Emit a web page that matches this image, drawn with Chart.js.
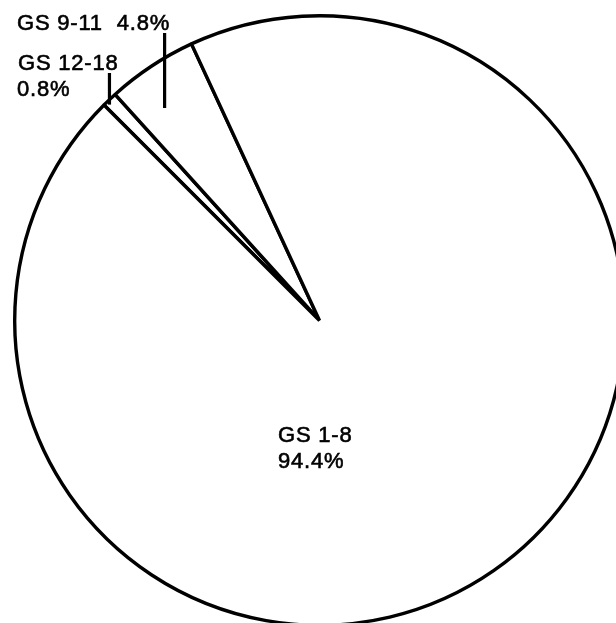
<!DOCTYPE html>
<html>
<head>
<meta charset="utf-8">
<script src="https://cdn.jsdelivr.net/npm/chart.js@4.4.1/dist/chart.umd.min.js"></script>
<style>
  html, body { margin: 0; padding: 0; background: #fff; overflow: hidden; }
  #wrap { position: absolute; left: 0; top: 0; width: 616px; height: 623px; overflow: hidden; }
  canvas { position: absolute; left: 0; top: 0; }
</style>
</head>
<body>
<div id="wrap"><canvas id="pie" width="640" height="640"></canvas></div>
<script>
// grade groups, clockwise starting from the thin slice
const grades = ["GS 12-18", "GS 9-11", "GS 1-8"];
const shares = [0.8, 4.8, 94.4];

const FONT = "22px 'Liberation Sans', Arial, sans-serif";

function fmtPct(v) {
  return v.toFixed(1) + "%";
}

// labels and the little leader ticks
const labelPlugin = {
  id: "gradeLabels",
  afterDraw(chart) {
    const ctx = chart.ctx;
    const arcs = chart.getDatasetMeta(0).data;
    ctx.save();
    ctx.fillStyle = "#000";
    ctx.strokeStyle = "#000";
    ctx.font = FONT;
    ctx.letterSpacing = "0.8px";
    ctx.textAlign = "left";
    ctx.textBaseline = "alphabetic";
    ctx.lineWidth = 0.6;

    const text = (s, x, y) => {
      ctx.fillText(s, x, y);
      ctx.strokeText(s, x, y);
    };
    // GS 9-11, one line above the pie
    text(grades[1] + "  " + fmtPct(shares[1]), 17, 30);
    // GS 12-18, two lines
    text(grades[0], 18, 70);
    text(fmtPct(shares[0]), 17, 96);
    // GS 1-8 inside the big slice
    text(grades[2], 278, 442);
    text(fmtPct(shares[2]), 278, 468);

    // vertical leader ticks through the rim of the small slices
    const tick = (arc, frac, yTop, below) => {
      const p = arc.getProps(["x", "y", "startAngle", "endAngle", "outerRadius"], true);
      const a = p.startAngle + frac * (p.endAngle - p.startAngle);
      const x = p.x + p.outerRadius * Math.cos(a);
      const y = p.y + p.outerRadius * Math.sin(a);
      ctx.lineWidth = 3.2;
      ctx.beginPath();
      ctx.moveTo(x, yTop);
      ctx.lineTo(x, y + below);
      ctx.stroke();
    };
    tick(arcs[1], 0.67, 33, 50);
    tick(arcs[0], 0.5, 73, 5);
    ctx.restore();
  }
};

new Chart(document.getElementById("pie"), {
  type: "pie",
  data: {
    labels: grades,
    datasets: [{
      data: shares,
      backgroundColor: "#fff",
      borderColor: "#000",
      borderWidth: 3.4
    }]
  },
  options: {
    responsive: false,
    animation: false,
    rotation: -45,
    layout: { padding: { left: 13, top: 14, right: 14, bottom: 13 } },
    plugins: {
      legend: { display: false },
      tooltip: { enabled: false }
    }
  },
  plugins: [labelPlugin]
});
</script>
</body>
</html>
